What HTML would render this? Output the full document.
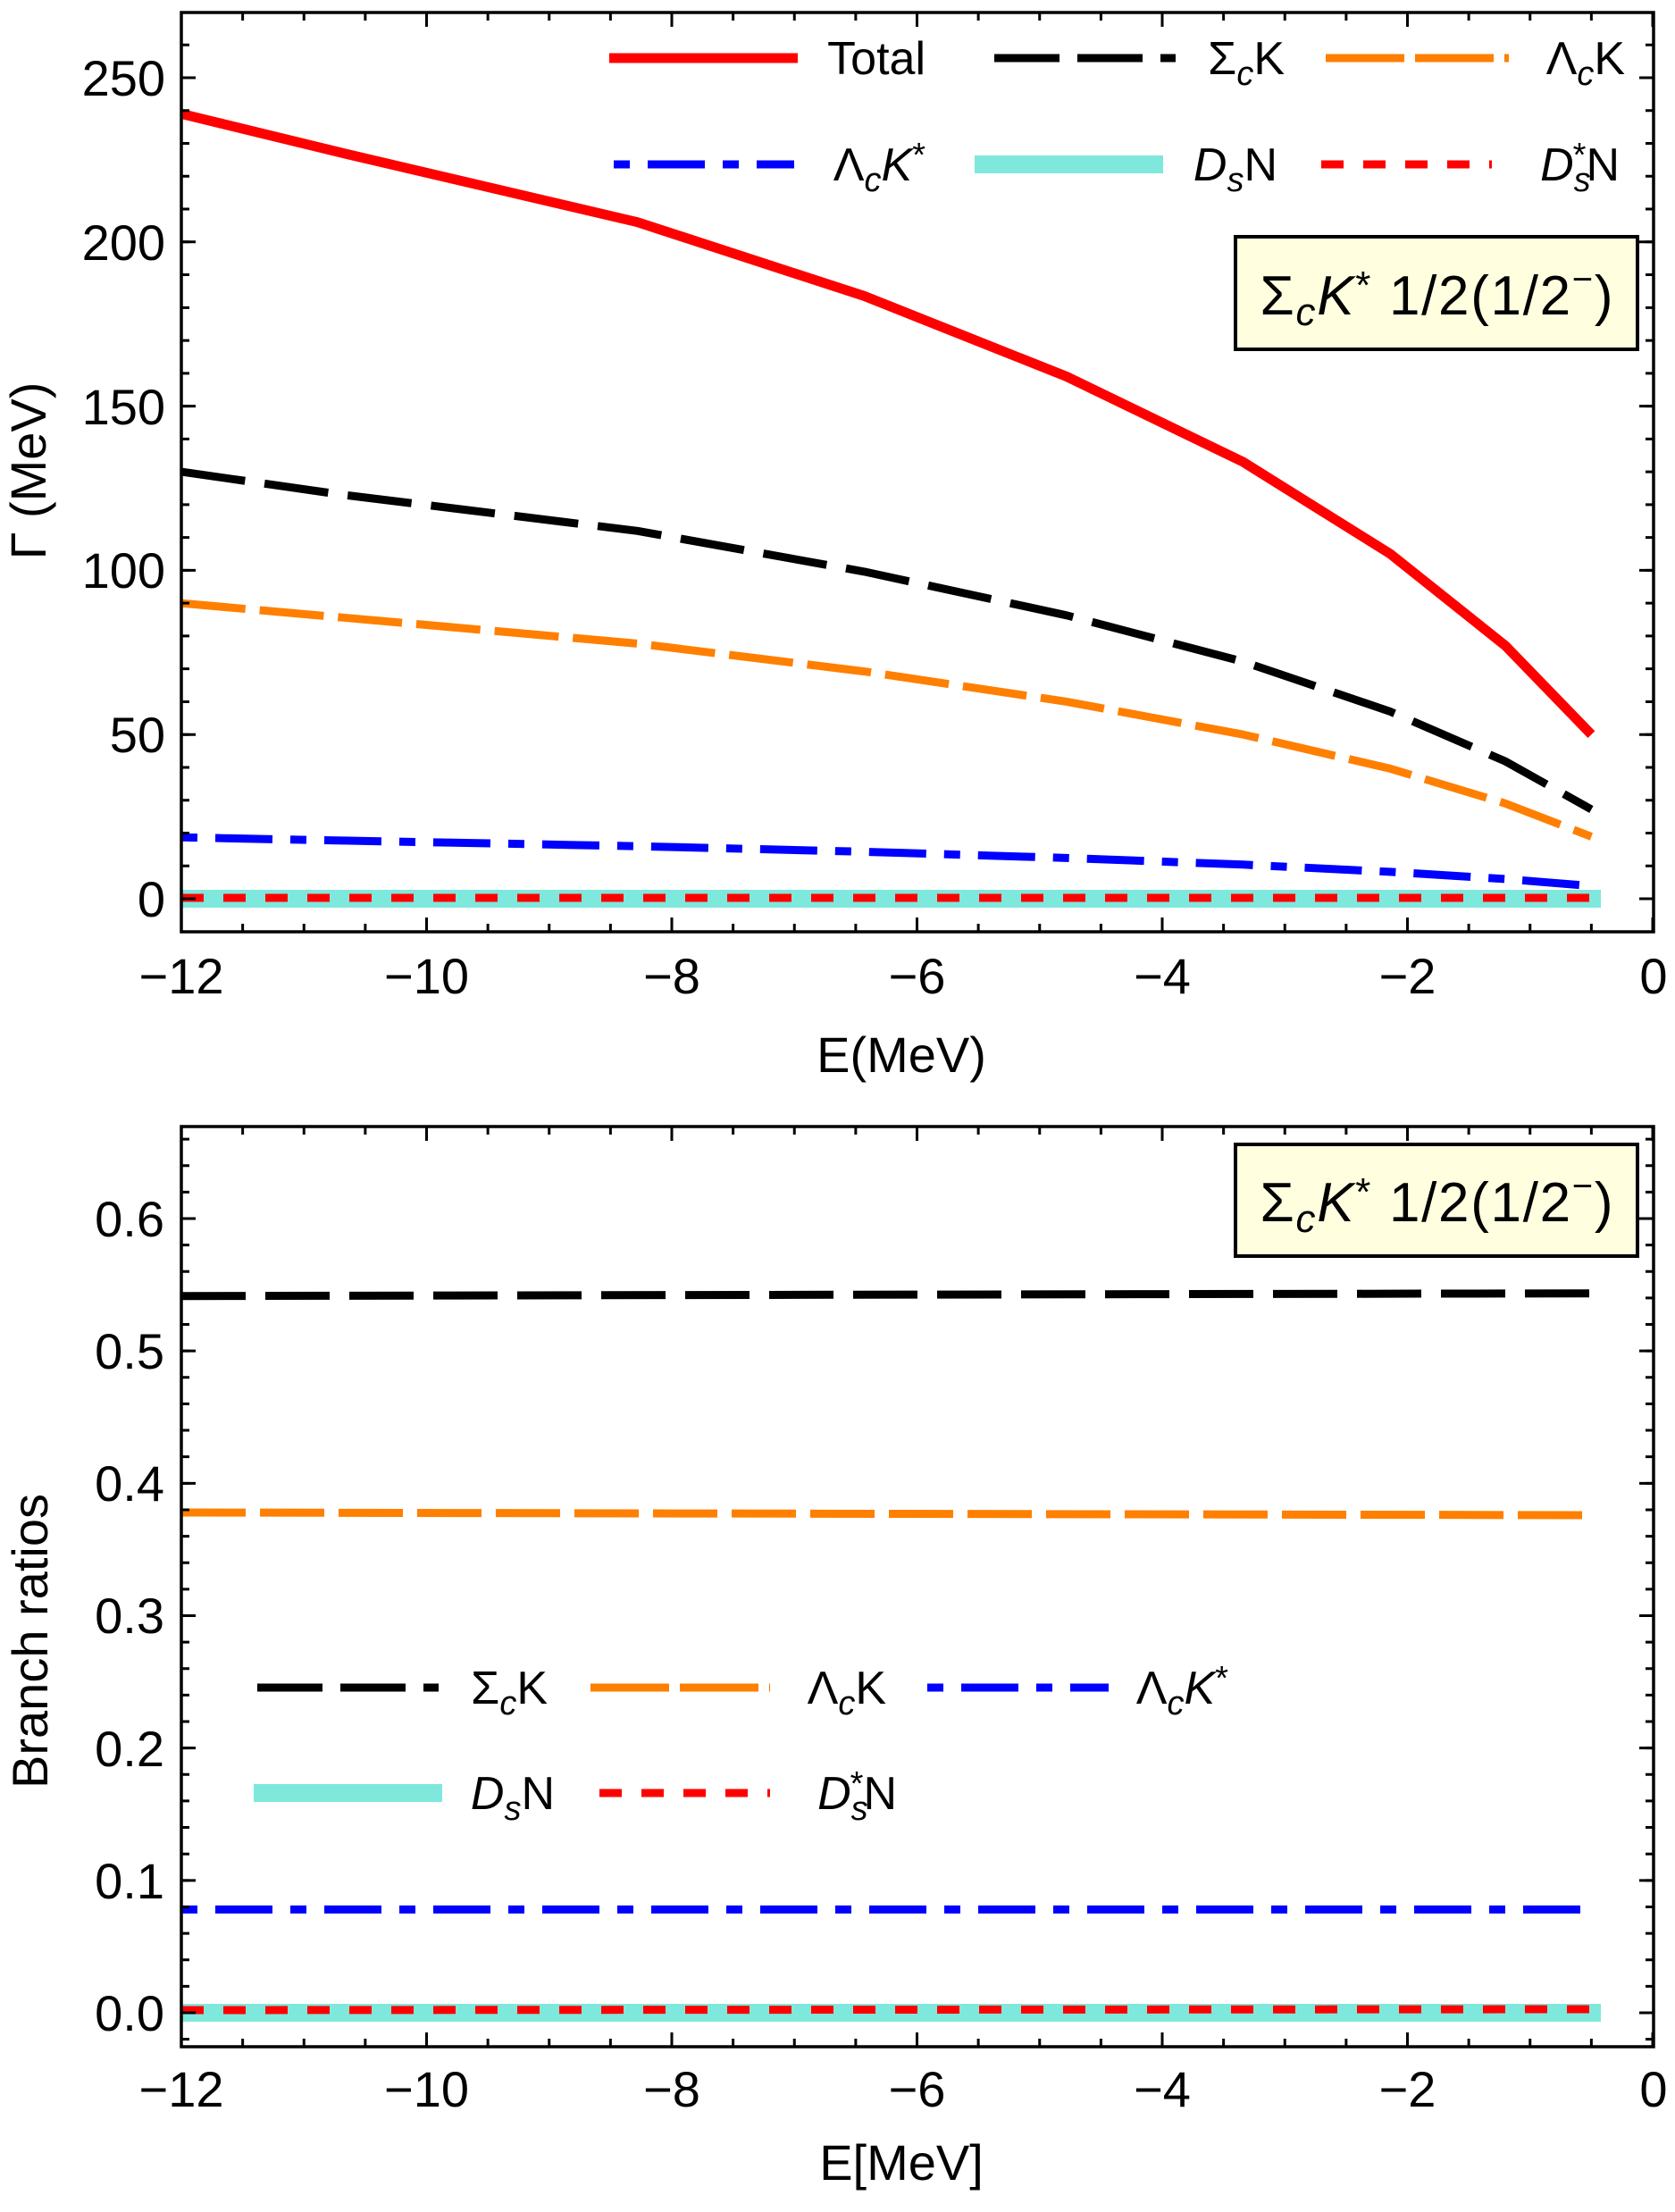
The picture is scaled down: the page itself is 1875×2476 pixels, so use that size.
<!DOCTYPE html>
<html><head><meta charset="utf-8"><style>html,body{margin:0;padding:0;background:#fff}svg{display:block}</style></head><body>
<svg width="1875" height="2476" viewBox="0 0 1875 2476" xmlns="http://www.w3.org/2000/svg" font-family="Liberation Sans, sans-serif">
<rect width="1875" height="2476" fill="#fff"/>

<!-- ===== TOP PLOT ===== -->
<g fill="none" stroke-linejoin="round">
<line x1="203" y1="1006" x2="1792" y2="1006" stroke="#7fe8dc" stroke-width="20"/>
<line x1="203" y1="1005" x2="1782" y2="1005" stroke="#f00" stroke-width="9" stroke-dasharray="25 22"/>
<polyline points="203,937.3 384.2,940.9 713.6,947.2 967.5,953.4 1194,960.4 1391.6,967.8 1556.3,975.9 1685.3,983.9 1781.4,991.7" stroke="#00f" stroke-width="9" stroke-dasharray="18 20 64 20"/>
<polyline points="203,675.2 384.2,691.3 713.6,720.4 967.5,751.6 1194,785.4 1391.6,822.2 1556.3,860.4 1685.3,899.4 1781.4,936.5" stroke="#ff7f00" stroke-width="9" stroke-dasharray="72 16"/>
<polyline points="203,528.1 384.2,553.9 713.6,594.3 967.5,639.9 1194,688.8 1391.6,740.6 1556.3,796.5 1685.3,852.3 1781.4,906" stroke="#000" stroke-width="9" stroke-dasharray="72 22"/>
<polyline points="203,127.4 384.2,171.5 713.6,248.7 967.5,331.4 1194,421.5 1391.6,517.1 1556.3,620 1685.3,722.9 1781.4,822.2" stroke="#f00" stroke-width="11"/>
</g>
<rect x="203" y="14" width="1648" height="1029" fill="none" stroke="#000" stroke-width="3.5"/>
<g stroke="#000" fill="none">
<line x1="201.5" y1="1038.5" x2="1853" y2="1038.5" stroke-width="9" stroke-dasharray="3 65.625"/>
<line x1="201.5" y1="1035" x2="1853" y2="1035" stroke-width="16" stroke-dasharray="3 271.5"/>
<line x1="201.5" y1="18.5" x2="1853" y2="18.5" stroke-width="9" stroke-dasharray="3 65.625"/>
<line x1="201.5" y1="22" x2="1853" y2="22" stroke-width="16" stroke-dasharray="3 271.5"/>
<line x1="207.5" y1="1007.5" x2="207.5" y2="14" stroke-width="9" stroke-dasharray="3 33.76"/>
<line x1="211" y1="1007.5" x2="211" y2="14" stroke-width="16" stroke-dasharray="3 180.8"/>
<line x1="1846.5" y1="1007.5" x2="1846.5" y2="14" stroke-width="9" stroke-dasharray="3 33.76"/>
<line x1="1843" y1="1007.5" x2="1843" y2="14" stroke-width="16" stroke-dasharray="3 180.8"/>
</g>
<g font-size="56" fill="#000" text-anchor="middle">
<text x="203" y="1112">−12</text><text x="477.5" y="1112">−10</text><text x="752" y="1112">−8</text>
<text x="1026.5" y="1112">−6</text><text x="1301" y="1112">−4</text><text x="1575.5" y="1112">−2</text><text x="1851" y="1112">0</text>
</g>
<g font-size="56" fill="#000" text-anchor="end">
<text x="185" y="1026">0</text><text x="185" y="842">50</text><text x="185" y="658">100</text>
<text x="185" y="475">150</text><text x="185" y="291">200</text><text x="185" y="107">250</text>
</g>
<text x="1009" y="1200" font-size="56" text-anchor="middle">E(MeV)</text>
<text transform="translate(51,527) rotate(-90)" font-size="56" text-anchor="middle">Γ (MeV)</text>

<!-- legend top -->
<g fill="none">
<line x1="682" y1="65" x2="893" y2="65" stroke="#f00" stroke-width="11"/>
<line x1="1113" y1="65" x2="1316" y2="65" stroke="#000" stroke-width="9" stroke-dasharray="73 20"/>
<line x1="1484" y1="65" x2="1689" y2="65" stroke="#ff7f00" stroke-width="9" stroke-dasharray="88 12"/>
<line x1="687" y1="184" x2="889" y2="184" stroke="#00f" stroke-width="9" stroke-dasharray="18 20 64 20"/>
<line x1="1091" y1="184" x2="1302" y2="184" stroke="#7fe8dc" stroke-width="20"/>
<line x1="1479" y1="184" x2="1670" y2="184" stroke="#f00" stroke-width="9" stroke-dasharray="25 22"/>
</g>
<g font-size="52" fill="#000" text-anchor="end">
<text x="1036" y="83">Total</text>
<text x="1438" y="83">Σ<tspan font-style="italic" font-size="38" dy="12">c</tspan><tspan dy="-12">K</tspan></text>
<text x="1819" y="83">Λ<tspan font-style="italic" font-size="38" dy="12">c</tspan><tspan dy="-12">K</tspan></text>
<text x="1036" y="202">Λ<tspan font-style="italic" font-size="38" dy="12">c</tspan><tspan font-style="italic" dy="-12">K</tspan><tspan font-size="38" dy="-16">*</tspan></text>
<text x="1430" y="202"><tspan font-style="italic">D</tspan><tspan font-style="italic" font-size="38" dy="12">s</tspan><tspan dy="-12">N</tspan></text>
<text x="1813" y="202"><tspan font-style="italic">D</tspan><tspan font-style="italic" font-size="38" dy="12">s</tspan><tspan font-size="38" dx="-20" dy="-28">*</tspan><tspan dy="16">N</tspan></text>
</g>
<rect x="1383" y="265" width="450" height="126" fill="#ffffe0" stroke="#000" stroke-width="4"/>
<text x="1608" y="352" font-size="62" text-anchor="middle" textLength="395">Σ<tspan font-style="italic" font-size="44" dy="12">c</tspan><tspan font-style="italic" dy="-12">K</tspan><tspan font-size="44" dy="-18">*</tspan><tspan dy="18"> 1/2(1/2</tspan><tspan font-size="40" dy="-26">−</tspan><tspan dy="26">)</tspan></text>

<!-- ===== BOTTOM PLOT ===== -->
<g fill="none">
<line x1="203" y1="2253" x2="1792" y2="2253" stroke="#7fe8dc" stroke-width="20"/>
<line x1="203" y1="2250" x2="1782" y2="2249" stroke="#f00" stroke-width="9" stroke-dasharray="25 22"/>
<line x1="203" y1="2137.4" x2="1781" y2="2137.4" stroke="#00f" stroke-width="9" stroke-dasharray="18 20 64 20"/>
<line x1="203" y1="1693" x2="1781" y2="1696" stroke="#ff7f00" stroke-width="9" stroke-dasharray="72 16"/>
<line x1="203" y1="1450.7" x2="1781" y2="1447.7" stroke="#000" stroke-width="9" stroke-dasharray="72 22"/>
</g>
<rect x="203" y="1261" width="1648" height="1030" fill="none" stroke="#000" stroke-width="3.5"/>
<g stroke="#000" fill="none">
<line x1="201.5" y1="2286.5" x2="1853" y2="2286.5" stroke-width="9" stroke-dasharray="3 65.625"/>
<line x1="201.5" y1="2283" x2="1853" y2="2283" stroke-width="16" stroke-dasharray="3 271.5"/>
<line x1="201.5" y1="1265.5" x2="1853" y2="1265.5" stroke-width="9" stroke-dasharray="3 65.625"/>
<line x1="201.5" y1="1269" x2="1853" y2="1269" stroke-width="16" stroke-dasharray="3 271.5"/>
<line x1="207.5" y1="2254.5" x2="207.5" y2="1261" stroke-width="9" stroke-dasharray="3 26.634"/>
<line x1="211" y1="2254.5" x2="211" y2="1261" stroke-width="16" stroke-dasharray="3 145.17"/>
<line x1="1846.5" y1="2254.5" x2="1846.5" y2="1261" stroke-width="9" stroke-dasharray="3 26.634"/>
<line x1="1843" y1="2254.5" x2="1843" y2="1261" stroke-width="16" stroke-dasharray="3 145.17"/>
<line x1="203" y1="2282.6" x2="212" y2="2282.6" stroke-width="3"/>
<line x1="1842" y1="2282.6" x2="1851" y2="2282.6" stroke-width="3"/>
</g>
<g font-size="56" fill="#000" text-anchor="middle">
<text x="203" y="2358">−12</text><text x="477.5" y="2358">−10</text><text x="752" y="2358">−8</text>
<text x="1026.5" y="2358">−6</text><text x="1301" y="2358">−4</text><text x="1575.5" y="2358">−2</text><text x="1851" y="2358">0</text>
</g>
<g font-size="56" fill="#000" text-anchor="end">
<text x="184" y="2273">0.0</text><text x="184" y="2125">0.1</text><text x="184" y="1977">0.2</text>
<text x="184" y="1828">0.3</text><text x="184" y="1680">0.4</text><text x="184" y="1532">0.5</text><text x="184" y="1384">0.6</text>
</g>
<text x="1009" y="2440" font-size="56" text-anchor="middle">E[MeV]</text>
<text transform="translate(53,1837) rotate(-90)" font-size="56" text-anchor="middle">Branch ratios</text>

<!-- legend bottom -->
<g fill="none">
<line x1="288" y1="1889" x2="491" y2="1889" stroke="#000" stroke-width="9" stroke-dasharray="73 20"/>
<line x1="661" y1="1889" x2="862" y2="1889" stroke="#ff7f00" stroke-width="9" stroke-dasharray="88 12"/>
<line x1="1038" y1="1889" x2="1241" y2="1889" stroke="#00f" stroke-width="9" stroke-dasharray="18 20 64 20"/>
<line x1="284" y1="2007" x2="495" y2="2007" stroke="#7fe8dc" stroke-width="20"/>
<line x1="671" y1="2007" x2="862" y2="2007" stroke="#f00" stroke-width="9" stroke-dasharray="25 22"/>
</g>
<g font-size="52" fill="#000" text-anchor="end">
<text x="613" y="1907">Σ<tspan font-style="italic" font-size="38" dy="12">c</tspan><tspan dy="-12">K</tspan></text>
<text x="992" y="1907">Λ<tspan font-style="italic" font-size="38" dy="12">c</tspan><tspan dy="-12">K</tspan></text>
<text x="1375" y="1907">Λ<tspan font-style="italic" font-size="38" dy="12">c</tspan><tspan font-style="italic" dy="-12">K</tspan><tspan font-size="38" dy="-16">*</tspan></text>
<text x="621" y="2025"><tspan font-style="italic">D</tspan><tspan font-style="italic" font-size="38" dy="12">s</tspan><tspan dy="-12">N</tspan></text>
<text x="1004" y="2025"><tspan font-style="italic">D</tspan><tspan font-style="italic" font-size="38" dy="12">s</tspan><tspan font-size="38" dx="-20" dy="-28">*</tspan><tspan dy="16">N</tspan></text>
</g>
<rect x="1383" y="1281" width="450" height="125" fill="#ffffe0" stroke="#000" stroke-width="4"/>
<text x="1608" y="1367" font-size="62" text-anchor="middle" textLength="395">Σ<tspan font-style="italic" font-size="44" dy="12">c</tspan><tspan font-style="italic" dy="-12">K</tspan><tspan font-size="44" dy="-18">*</tspan><tspan dy="18"> 1/2(1/2</tspan><tspan font-size="40" dy="-26">−</tspan><tspan dy="26">)</tspan></text>
</svg>
</body></html>
